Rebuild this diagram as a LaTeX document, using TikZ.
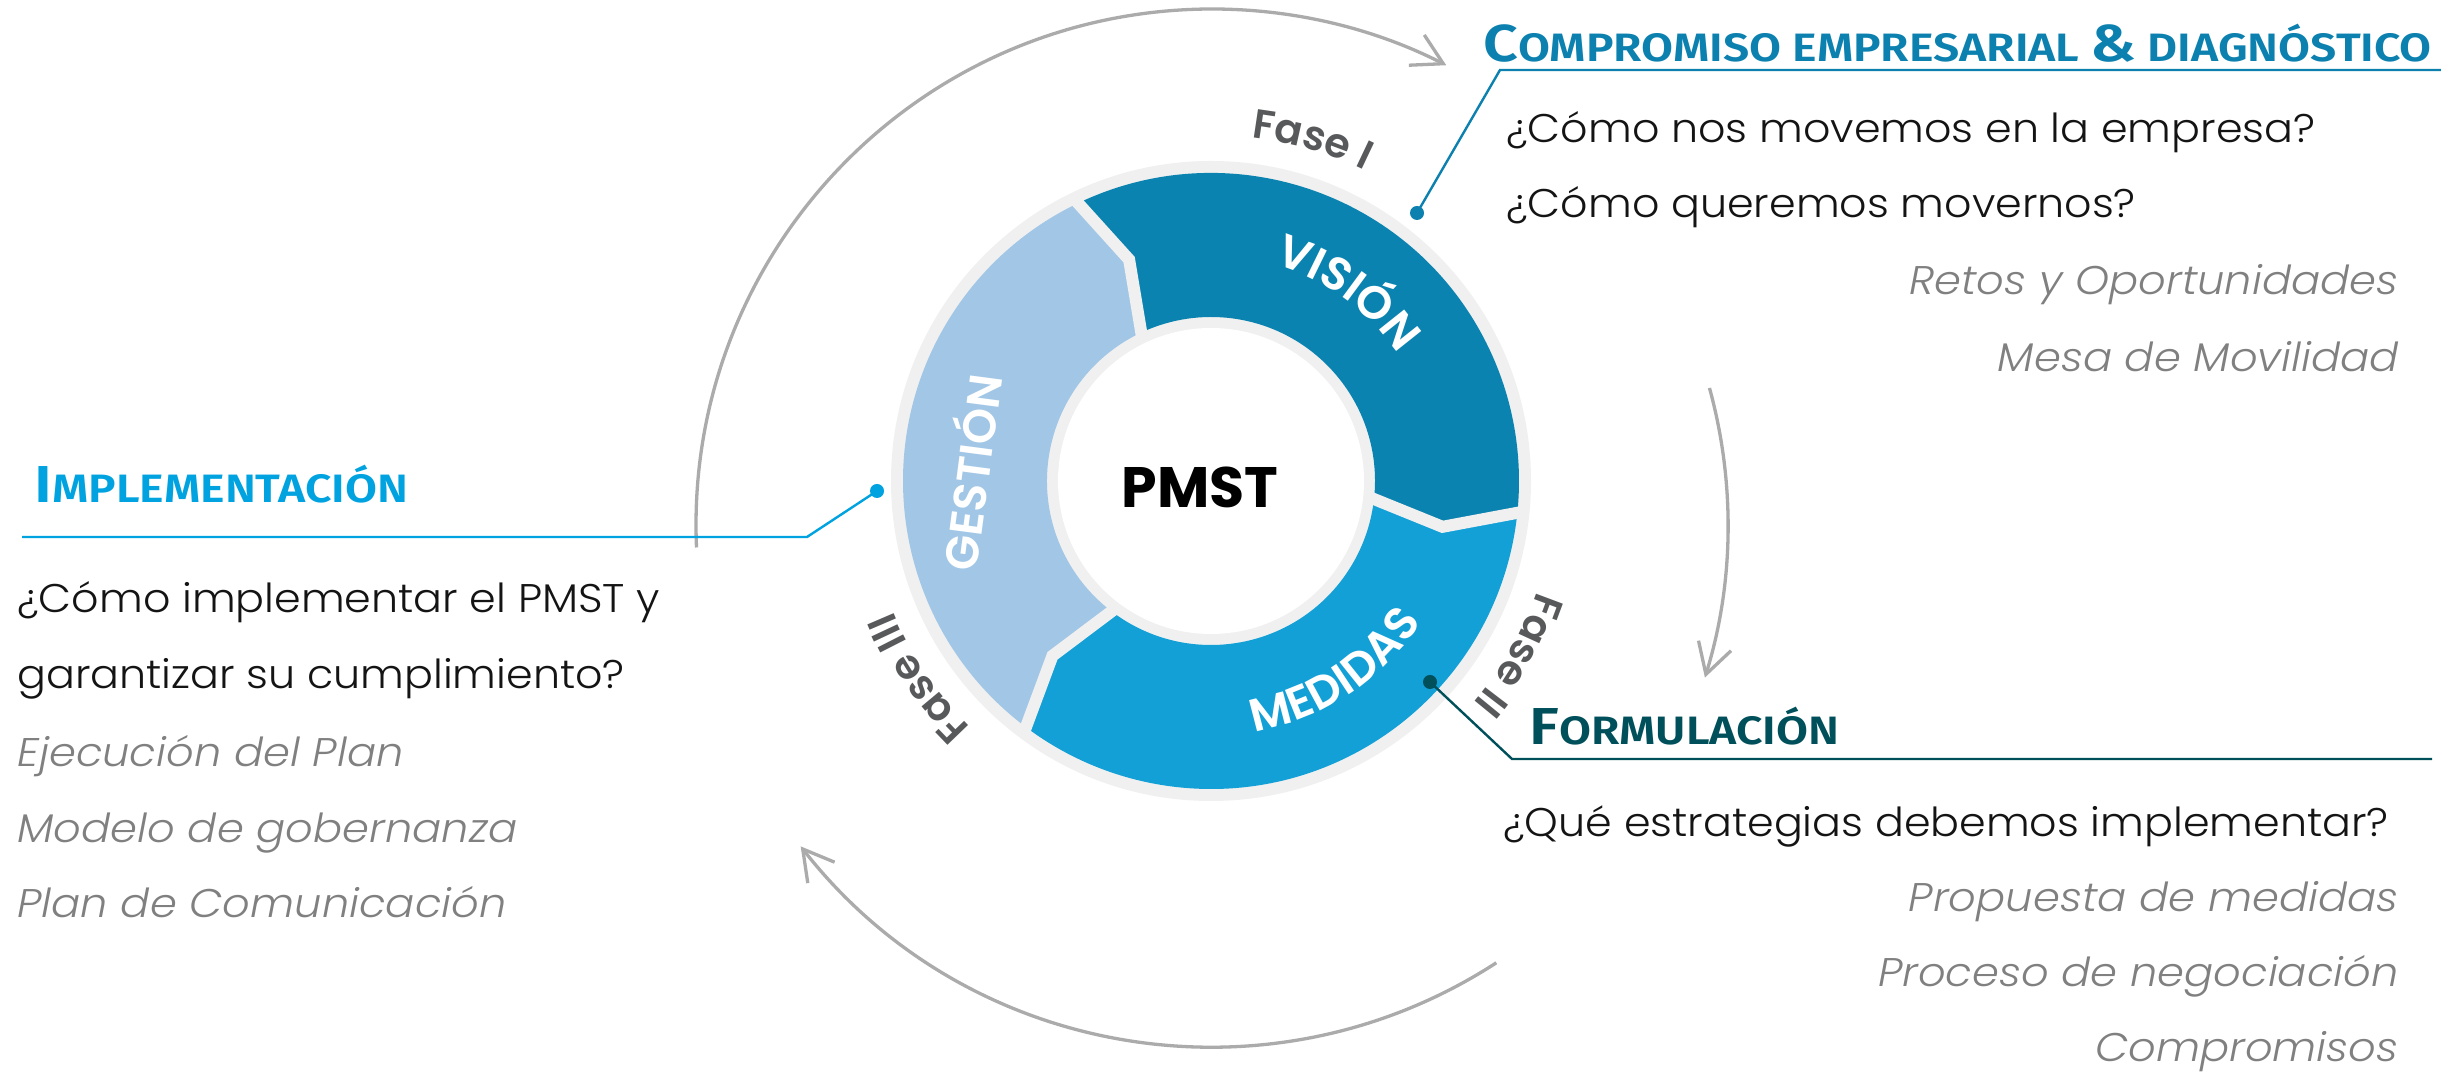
\documentclass[tikz,border=0pt]{standalone}
\usepackage{fontspec}
\usetikzlibrary{arrows.meta,decorations.text}

\IfFontExistsTF{Poppins Light}{\newfontfamily\bodyfont{Poppins Light}[FakeStretch=1.07]}{\newfontfamily\bodyfont{Poppins}[FakeStretch=1.07]}
\IfFontExistsTF{Poppins Light Italic}{\newfontfamily\itfont{Poppins Light Italic}[FakeStretch=1.08]}{\IfFontExistsTF{Poppins Italic}{\newfontfamily\itfont{Poppins Italic}[FakeStretch=1.08]}{\newfontfamily\itfont{Poppins}[FakeSlant=0.2,FakeStretch=1.08]}}
\IfFontExistsTF{Poppins SemiBold}{\newfontfamily\semifont{Poppins SemiBold}}{\newfontfamily\semifont{Poppins}[FakeBold=1.5]}
\IfFontExistsTF{Poppins Bold}{\newfontfamily\boldfont{Poppins Bold}}{\newfontfamily\boldfont{Poppins}[FakeBold=2]}
\IfFontExistsTF{Fira Sans SemiBold}{\newfontfamily\headfont{Fira Sans SemiBold}[FakeStretch=1.17]}{\newfontfamily\headfont{Fira Sans}[FakeBold=1.5,FakeStretch=1.17]}

\newcommand{\fsz}[1]{\fontsize{#1}{#1}\selectfont}
\newcommand{\hbig}[1]{{\fsz{26pt}#1}}
\newcommand{\hsmall}[1]{{\fsz{19.8pt}#1}}

\definecolor{cVis}{HTML}{0B83B0}
\definecolor{cMed}{HTML}{12A0D7}
\definecolor{cGes}{HTML}{A2C7E6}
\definecolor{cRing}{HTML}{F0F0F0}
\definecolor{cArc}{HTML}{ABABAB}
\definecolor{cFase}{HTML}{58595B}
\definecolor{cIt}{HTML}{808080}
\definecolor{cComp}{HTML}{0C81AF}
\definecolor{cImpl}{HTML}{00A3E0}
\definecolor{cForm}{HTML}{00505B}
\definecolor{cBody}{HTML}{141414}

\begin{document}
\begin{tikzpicture}[x=0.5pt,y=0.5pt,
  cyc/.style={draw=cArc, line width=1.65pt, -{Straight Barb[length=15pt,width=17pt]}},
  conn/.style={line width=1.2pt},
  dot/.style={circle, inner sep=0pt, minimum size=7pt},
  body/.style={inner sep=0pt, text=cBody, font=\bodyfont\fsz{20pt}},
  ital/.style={inner sep=0pt, text=cIt, font=\itfont\fsz{20pt}},
  head/.style={inner sep=0pt, anchor=base west, font=\headfont},
  seglabel/.style={inner sep=0pt, text=white, font=\semifont\fsz{23pt}},
  fasedeco/.style={decorate, decoration={text along path, text align=center, text={|\semifont\fsz{20.5pt}\color{cFase}|#1}}},
  segdeco/.style={decorate, decoration={text along path, text align=center, text={|\semifont\fsz{23pt}\color{white}|#1}}}
]
\useasboundingbox (0,0) rectangle (2441,1074);
\fill[white] (0,0) rectangle (2441,1074);

\coordinate (C) at (1211,593);
\coordinate (A0) at (1212,549);

% --- cycle arrows
\draw[cyc] ([shift={(182.5:516)}]A0) arc[start angle=182.5, end angle=63, radius=516];
\draw[cyc] ([shift={(15.4:516)}]A0) arc[start angle=15.4, end angle=-17.2, radius=516];
\draw[cyc] ([shift={(-57:522)}]A0) arc[start angle=-57, end angle=-142, radius=522];

% --- ring
\fill[cRing] (C) circle[radius=320];
\begin{scope}[shift={(C)}]
  \fill[cVis] (116:164) -- (110.3:236) -- (116:308) arc[start angle=116,end angle=-5.5,radius=308]
     -- (-11.2:236) -- (-5.5:164) arc[start angle=-5.5,end angle=116,radius=164] -- cycle;
  \fill[cMed] (-5.5:164) -- (-11.2:236) -- (-5.5:308) arc[start angle=-5.5,end angle=-126.5,radius=308]
     -- (-132.2:236) -- (-126.5:164) arc[start angle=-126.5,end angle=-5.5,radius=164] -- cycle;
  \fill[cGes] (-126.5:164) -- (-132.2:236) -- (-126.5:308) arc[start angle=-126.5,end angle=-244,radius=308]
     -- (-249.7:236) -- (-244:164) arc[start angle=-244,end angle=-126.5,radius=164] -- cycle;
  \foreach \a/\b in {116/110.3, -5.5/-11.2, -126.5/-132.2}
    \draw[cRing, line width=6pt, miter limit=10] (\a:156) -- (\b:236) -- (\a:316);
\end{scope}
\fill[white] (C) circle[radius=153];
\node[inner sep=0pt, font=\boldfont\fsz{28.5pt}] (pmst) at (1200,587) {PMST};

% --- segment labels
\begin{scope}[shift={(C)}]
  \path[segdeco={VISIÓN}] (84:226) arc[start angle=84, end angle=24, radius=226];
  \path[segdeco={MEDIDAS}] (-92:254) arc[start angle=-92, end angle=-22, radius=254];
  \path[fasedeco={Fase I}] (104:346) arc[start angle=104, end angle=43, radius=346];
  \path[fasedeco={Fase II}] (0.5:344) arc[start angle=0.5, end angle=-59.5, radius=344];
  \path[fasedeco={Fase III}] (-114:344) arc[start angle=-114, end angle=-178, radius=344];
\end{scope}
\node[seglabel, rotate=82.5] (lges) at (968,602) {GESTIÓN};

% --- Compromiso block
\node[head, text=cComp] (h1) at (1483,1012) {\hbig{C}\hsmall{OMPROMISO EMPRESARIAL }\hbig{\&}\hsmall{ DIAGNÓSTICO}};
\node[dot, fill=cComp] (d1) at (1417,861) {};
\coordinate (k1) at (1500,1004);
\coordinate (e1) at (2441,1004);
\draw[conn, cComp] (d1.center) -- (k1) -- (e1);
\node[body, anchor=base west] (t11) at (1506,931) {¿Cómo nos movemos en la empresa?};
\node[body, anchor=base west] (t12) at (1506,856) {¿Cómo queremos movernos?};
\node[ital, anchor=base east] (t13) at (2399,779) {Retos y Oportunidades};
\node[ital, anchor=base east] (t14) at (2399,702) {Mesa de Movilidad};

% --- Formulacion block
\node[head, text=cForm] (h2) at (1529,329) {\hbig{F}\hsmall{ORMULACIÓN}};
\node[dot, fill=cForm] (d2) at (1430,392) {};
\coordinate (k2) at (1512,315);
\coordinate (e2) at (2432,315);
\draw[conn, cForm] (d2.center) -- (k2) -- (e2);
\node[body, anchor=base west] (t21) at (1503,237) {¿Qué estrategias debemos implementar?};
\node[ital, anchor=base east] (t22) at (2399,162) {Propuesta de medidas};
\node[ital, anchor=base east] (t23) at (2399,87) {Proceso de negociación};
\node[ital, anchor=base east] (t24) at (2399,12) {Compromisos};

% --- Implementacion block
\node[head, text=cImpl] (h3) at (34,571) {\hbig{I}\hsmall{MPLEMENTACIÓN}};
\node[dot, fill=cImpl] (d3) at (877,583) {};
\coordinate (k3) at (807,537);
\coordinate (e3) at (22,537);
\draw[conn, cImpl] (d3.center) -- (k3) -- (e3);
\node[body, anchor=base west] (t31) at (17,461) {¿Cómo implementar el PMST y};
\node[body, anchor=base west] (t32) at (17,385) {garantizar su cumplimiento?};
\node[ital, anchor=base west] (t33) at (17,307) {Ejecución del Plan};
\node[ital, anchor=base west] (t34) at (17,231) {Modelo de gobernanza};
\node[ital, anchor=base west] (t35) at (17,156) {Plan de Comunicación};
\end{tikzpicture}
\end{document}
